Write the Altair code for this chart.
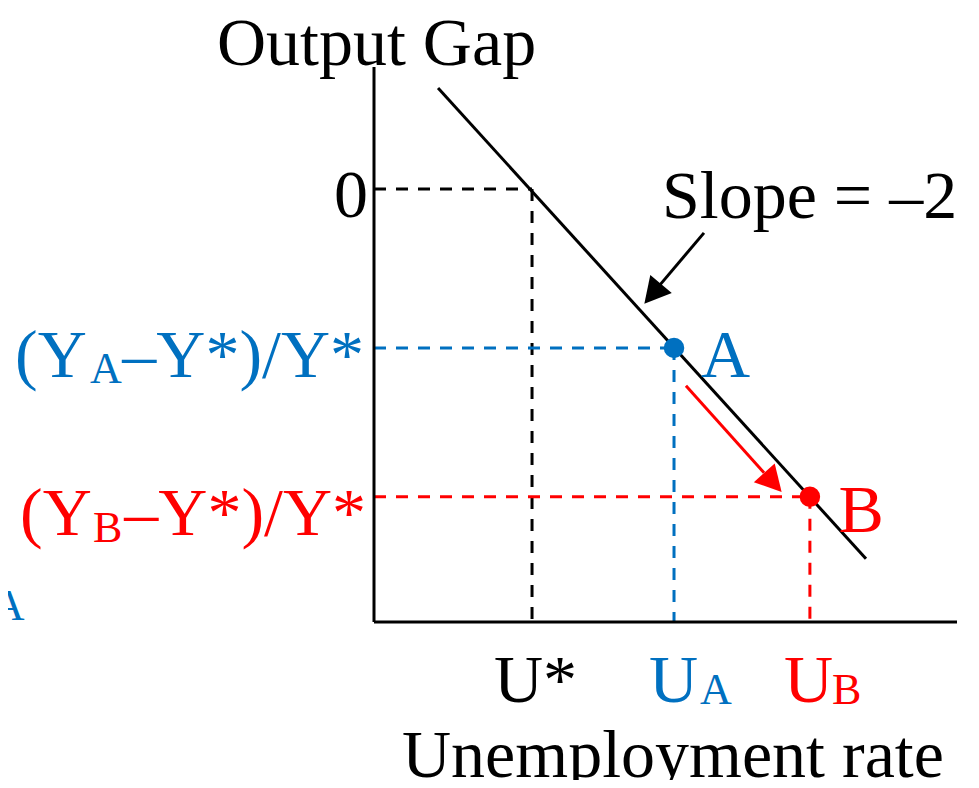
import altair as alt
import pandas as pd

# ---------------- data (economic units) ----------------
X_DOMAIN = [3.887, 7.993]      # unemployment rate range covered by the axis
Y_DOMAIN = [-5.45, 1.535]      # output gap range covered by the axis

U_STAR, U_A, U_B = 5.0, 6.0, 6.957
GAP_STAR, GAP_A, GAP_B = 0.0, -2.0, -3.874

BLACK, BLUE, RED = "#000000", "#0070C0", "#FF0000"

# Okun's-law line (slope -2)
okun_u = [4.338, 7.352]
okun_gap = [1.271, -4.654]

# dashed guide lines
guide_u = [X_DOMAIN[0], U_STAR, X_DOMAIN[0], U_A, X_DOMAIN[0], U_B]
guide_u2 = [U_STAR, U_STAR, U_A, U_A, U_B, U_B]
guide_gap = [GAP_STAR, GAP_STAR, GAP_A, GAP_A, GAP_B, GAP_B]
guide_gap2 = [GAP_STAR, Y_DOMAIN[0], GAP_A, Y_DOMAIN[0], GAP_B, Y_DOMAIN[0]]
guide_color = [BLACK, BLACK, BLUE, BLUE, RED, RED]

# points A and B
point_u = [U_A, U_B]
point_gap = [GAP_A, GAP_B]
point_color = [BLUE, RED]

# arrows: shaft start, shaft end, tip, direction
arrow_u = [6.211, 6.084]
arrow_gap = [-0.553, -2.478]
arrow_u2 = [5.901, 6.634]
arrow_gap2 = [-1.207, -3.572]
arrow_tip_u = [5.791, 6.758]
arrow_tip_gap = [-1.446, -3.815]
arrow_angle = [220, 138]
arrow_color = [BLACK, RED]

# labels (left aligned)
lab_text = ["Output Gap", "Slope = \u20132", "A", "B",
            "(Y", "A", "(Y", "B",
            "U*", "U", "A", "U", "B", "Unemployment rate"]
lab_u = [2.781, 5.915, 6.190, 7.159,
         1.359, 1.887, 1.394, 1.908,
         4.732, 5.824, 6.183, 6.774, 7.112, 4.084]
lab_gap = [1.560, -0.364, -2.364, -4.314,
           -2.364, -2.440, -4.352, -4.440,
           -6.452, -6.452, -6.478, -6.452, -6.478, -7.396]
lab_size = [68, 68, 68, 68,
            68, 44, 68, 44,
            68, 68, 44, 68, 44, 68]
lab_color = [BLACK, BLACK, BLUE, RED,
             BLUE, BLUE, RED, RED,
             BLACK, BLUE, BLUE, RED, RED, BLACK]

# labels (right aligned)
rlab_text = ["0", "\u2013Y*)/Y*", "\u2013Y*)/Y*", "A"]
rlab_u = [3.845, 3.817, 3.831, 1.425]
rlab_gap = [-0.352, -2.364, -4.352, -5.421]
rlab_size = [68, 68, 68, 44]
rlab_color = [BLACK, BLUE, RED, BLUE]

# ---------------- chart ----------------
FONT = "Liberation Serif"
xs = alt.Scale(domain=X_DOMAIN, nice=False, zero=False)
ys = alt.Scale(domain=Y_DOMAIN, nice=False, zero=False)


def X(f):
    return alt.X(f, type="quantitative", scale=xs, axis=None)


def Y(f):
    return alt.Y(f, type="quantitative", scale=ys, axis=None)


guides = pd.DataFrame({"u": guide_u, "u2": guide_u2, "g": guide_gap,
                       "g2": guide_gap2, "c": guide_color})
guide_layer = alt.Chart(guides).mark_rule(
    strokeDash=[12, 10], strokeWidth=3
).encode(x=X("u"), x2="u2", y=Y("g"), y2="g2",
         color=alt.Color("c:N", scale=None))

solid = pd.DataFrame({
    "u": [X_DOMAIN[0], X_DOMAIN[0], okun_u[0]] + arrow_u,
    "u2": [X_DOMAIN[0], X_DOMAIN[1], okun_u[1]] + arrow_u2,
    "g": [Y_DOMAIN[0], Y_DOMAIN[0], okun_gap[0]] + arrow_gap,
    "g2": [Y_DOMAIN[1], Y_DOMAIN[0], okun_gap[1]] + arrow_gap2,
    "c": [BLACK, BLACK, BLACK] + arrow_color,
})
solid_layer = alt.Chart(solid).mark_rule(strokeWidth=3).encode(
    x=X("u"), x2="u2", y=Y("g"), y2="g2",
    color=alt.Color("c:N", scale=None))

heads = pd.DataFrame({"u": arrow_tip_u, "g": arrow_tip_gap,
                      "a": arrow_angle, "c": arrow_color})
head_layer = alt.Chart(heads).mark_point(
    shape="M0,0 L0.54,1 L-0.54,1 Z", filled=True, opacity=1,
    strokeWidth=0, size=2700
).encode(x=X("u"), y=Y("g"), angle=alt.Angle("a:Q", scale=None),
         color=alt.Color("c:N", scale=None))

pts = pd.DataFrame({"u": point_u, "g": point_gap, "c": point_color})
pt_layer = alt.Chart(pts).mark_circle(size=420, opacity=1).encode(
    x=X("u"), y=Y("g"), color=alt.Color("c:N", scale=None))

labs = pd.DataFrame({"t": lab_text, "u": lab_u, "g": lab_gap,
                     "s": lab_size, "c": lab_color})
lab_layer = alt.Chart(labs).mark_text(
    font=FONT, align="left", baseline="alphabetic"
).encode(x=X("u"), y=Y("g"), text="t:N",
         size=alt.Size("s:Q", scale=None),
         color=alt.Color("c:N", scale=None))

rlabs = pd.DataFrame({"t": rlab_text, "u": rlab_u, "g": rlab_gap,
                      "s": rlab_size, "c": rlab_color})
rlab_layer = alt.Chart(rlabs).mark_text(
    font=FONT, align="right", baseline="alphabetic"
).encode(x=X("u"), y=Y("g"), text="t:N",
         size=alt.Size("s:Q", scale=None),
         color=alt.Color("c:N", scale=None))

chart = alt.layer(
    guide_layer, solid_layer, head_layer, pt_layer, lab_layer, rlab_layer
).properties(
    width=583, height=555,
    padding={"left": 366, "top": 59, "right": 12, "bottom": 158},
    autosize=alt.AutoSizeParams(type="none"),
    background="white",
).configure_view(stroke=None)

chart.save("out.html", embed_options={"renderer": "svg", "actions": False})
